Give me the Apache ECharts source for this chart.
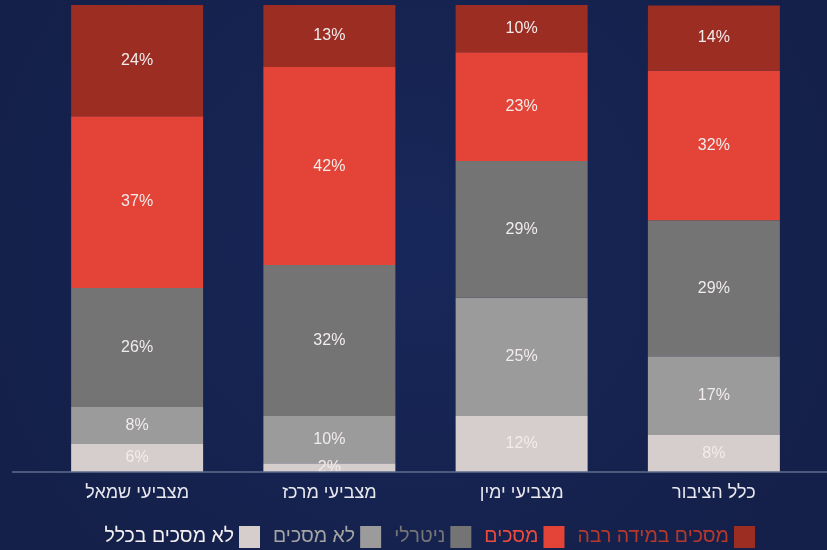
<!DOCTYPE html>
<html><head><meta charset="utf-8">
<script src="https://cdn.jsdelivr.net/npm/echarts@6/dist/echarts.min.js"></script>
<style>html,body{margin:0;padding:0;background:#162450;}#c{width:827px;height:550px;}</style>
</head><body><div id="c"></div>
<script>
const categories = ['מצביעי שמאל', 'מצביעי מרכז', 'מצביעי ימין', 'כלל הציבור'];
const seriesNames = ['לא מסכים בכלל', 'לא מסכים', 'ניטרלי', 'מסכים', 'מסכים במידה רבה'];
const notAtAll = [6.0, 1.9, 12.0, 7.9];
const disagree = [7.9, 10.1, 25.3, 16.9];
const neutral = [25.5, 32.3, 29.3, 29.1];
const agree = [36.8, 42.4, 23.3, 32.1];
const stronglyAgree = [23.8, 13.3, 10.1, 13.9];
const colors = ['#d6cdcd', '#9b9b9b', '#747474', '#e34437', '#9b2d23'];
const legendTextColors = ['#f4f0f0', '#a4a4a4', '#767676', '#ee4a3c', '#b8382c'];
const values = [notAtAll, disagree, neutral, agree, stronglyAgree];

const chart = echarts.init(document.getElementById('c'));
const font = "'Liberation Sans', Arial, sans-serif";
chart.setOption({
  backgroundColor: {
    type: 'radial', x: 0.5, y: 0.45, r: 0.8,
    colorStops: [{offset: 0, color: '#18275a'}, {offset: 1, color: '#142049'}]
  },
  animation: false,
  textStyle: {fontFamily: font},
  grid: {left: 41, right: 17, top: 5, bottom: 78},
  xAxis: {
    type: 'category', data: categories,
    axisLine: {show: false},
    axisTick: {show: false},
    axisLabel: {color: '#e8e8ee', fontSize: 18, margin: 12, fontFamily: font}
  },
  yAxis: {type: 'value', min: 0, max: 100, show: false},
  legend: {
    top: 526, right: 72, align: 'right', padding: 0,
    itemWidth: 21, itemHeight: 22, itemGap: 13,
    icon: 'rect',
    data: seriesNames.map((n, i) => ({name: n, textStyle: {color: legendTextColors[i], fontSize: 19.5, fontFamily: font}}))
  },
  graphic: [{
    type: 'line', z: 10,
    shape: {x1: 12, y1: 472, x2: 827, y2: 472},
    style: {stroke: '#5e6c8e', lineWidth: 1.5}
  }],
  series: values.map((v, i) => ({
    name: seriesNames[i], type: 'bar', stack: 'total', data: v,
    barWidth: 132,
    itemStyle: {color: colors[i]},
    label: {
      show: true, position: 'inside', color: '#f2ecec', fontSize: 16, fontFamily: font,
      formatter: p => Math.round(p.value) + '%'
    }
  }))
});
</script></body></html>
